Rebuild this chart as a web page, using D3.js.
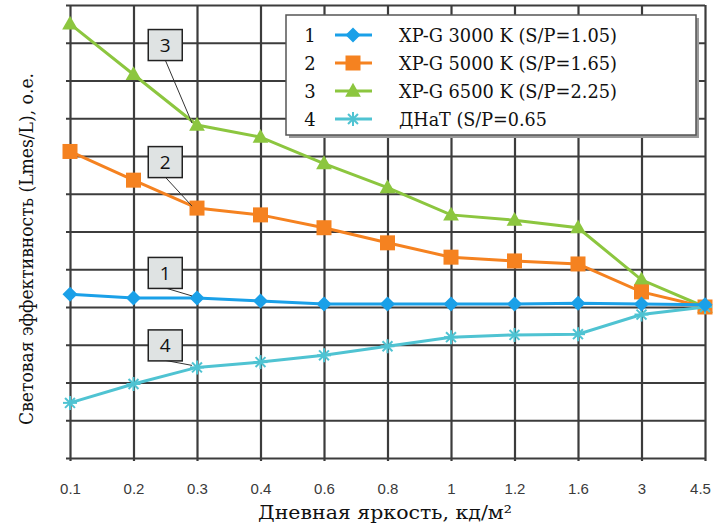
<!DOCTYPE html>
<html>
<head>
<meta charset="utf-8">
<script src="https://cdn.jsdelivr.net/npm/d3@7"></script>
<style>
  body { margin: 0; background: #fff; }
  svg { display: block; }
  .serif { font-family: "DejaVu Serif", serif; fill: #111; }
  .callout { font-family: "Open Sans", "Liberation Sans", sans-serif; fill: #111; }
</style>
</head>
<body>
<script>
// Data: relative efficiency vs. daytime luminance
var categories = ["0.1", "0.2", "0.3", "0.4", "0.6", "0.8", "1", "1.2", "1.6", "3", "4.5"];
var xpg3000 = [1.017, 1.012, 1.012, 1.008, 1.004, 1.004, 1.004, 1.004, 1.005, 1.004, 1.003];
var xpg5000 = [1.206, 1.168, 1.131, 1.122, 1.105, 1.085, 1.066, 1.061, 1.057, 1.020, 1.000];
var xpg6500 = [1.375, 1.308, 1.241, 1.225, 1.190, 1.158, 1.122, 1.115, 1.105, 1.036, 1.000];
var dnat    = [0.873, 0.898, 0.920, 0.927, 0.936, 0.948, 0.960, 0.963, 0.964, 0.990, 1.000];
var seriesNames = ["XP-G 3000 K (S/P=1.05)", "XP-G 5000 K (S/P=1.65)", "XP-G 6500 K (S/P=2.25)", "ДНаТ (S/P=0.65"];
var yGrid = [0.80, 0.85, 0.90, 0.95, 1.00, 1.05, 1.10, 1.15, 1.20, 1.25, 1.30, 1.35, 1.40];

var width = 714, height = 524;
var svg = d3.select("body").append("svg").attr("width", width).attr("height", height);

var x = d3.scalePoint().domain(categories).range([70, 705]);
var y = d3.scaleLinear().domain([0.8, 1.4]).range([458, 5]);

var series = [
  { id: 1, values: xpg3000, color: "#1aa0e8", marker: "diamond", name: seriesNames[0], dy: -25, tl: 218 },
  { id: 2, values: xpg5000, color: "#f58220", marker: "square",  name: seriesNames[1], dy: -46, tl: 218 },
  { id: 3, values: xpg6500, color: "#8cc63f", marker: "triangle", name: seriesNames[2], dy: -80, tl: 218 },
  { id: 4, values: dnat,    color: "#4fc3d2", marker: "asterisk", name: seriesNames[3], dy: -22, tl: 148 }
];

// Grid
var gridColor = "#3c3c3c";
svg.append("g")
  .attr("transform", "translate(66,0)")
  .call(d3.axisLeft(y).tickValues(yGrid).tickSize(-(705 - 66)).tickFormat(""));
var xAxis = svg.append("g")
  .attr("transform", "translate(0,461)")
  .call(d3.axisBottom(x).tickSize(-(461 - 5)).tickSizeOuter(0).tickPadding(22));
svg.selectAll(".domain").remove();
svg.selectAll(".tick line").attr("stroke", gridColor).attr("stroke-width", 2.2);
xAxis.selectAll("text")
  .attr("fill", "#3a3a3a")
  .style("font-family", "'Liberation Sans', Arial, sans-serif")
  .style("font-size", "15px")
  .attr("dx", function(d, i){ return i === categories.length - 1 ? -5 : 0; });

// Markers
function drawMarker(g, type, color, size){
  var s = size;
  if(type === "diamond"){
    g.append("path").attr("d", "M0," + (-s) + "L" + s + ",0L0," + s + "L" + (-s) + ",0Z").attr("fill", color);
  } else if(type === "square"){
    g.append("rect").attr("x", -s).attr("y", -s).attr("width", 2 * s).attr("height", 2 * s).attr("fill", color);
  } else if(type === "triangle"){
    g.append("path").attr("d", "M0," + (-s * 1.1) + "L" + (s * 1.05) + "," + (s * 0.75) + "L" + (-s * 1.05) + "," + (s * 0.75) + "Z").attr("fill", color);
  } else {
    [0, 45, 90, 135].forEach(function(a){
      g.append("line").attr("x1", -s).attr("x2", s).attr("y1", 0).attr("y2", 0)
        .attr("stroke", color).attr("stroke-width", 2)
        .attr("transform", "rotate(" + a + ")");
    });
  }
}

var markerSize = { diamond: 7.5, square: 7.5, triangle: 7.5, asterisk: 7 };
var line = d3.line().x(function(d, i){ return x(categories[i]); }).y(function(d){ return y(d); });

// draw order: green, orange, cyan, blue
[series[2], series[1], series[3], series[0]].forEach(function(s){
  var g = svg.append("g");
  g.append("path").attr("d", line(s.values)).attr("fill", "none")
    .attr("stroke", s.color).attr("stroke-width", 3);
  s.values.forEach(function(v, i){
    var m = g.append("g").attr("transform", "translate(" + x(categories[i]) + "," + y(v) + ")");
    drawMarker(m, s.marker, s.color, markerSize[s.marker]);
  });
});

// Callout labels
series.forEach(function(s){
  var px = x(categories[2]), py = y(s.values[2]);
  var bx = (x(categories[1]) + x(categories[2])) / 2, by = py + s.dy;
  svg.append("line").attr("x1", bx).attr("y1", by + 15).attr("x2", px - 5).attr("y2", py - 2)
    .attr("stroke", "#333").attr("stroke-width", 1);
  svg.append("rect").attr("x", bx - 17).attr("y", by - 15.5).attr("width", 34).attr("height", 31)
    .attr("fill", "#dfe3e3").attr("stroke", "#222").attr("stroke-width", 1.5);
  svg.append("text").attr("class", "callout").attr("x", bx).attr("y", by + 7).attr("text-anchor", "middle")
    .style("font-size", "19px").text(s.id);
});

// Legend
var legend = svg.append("g").attr("transform", "translate(286,15)");
legend.append("rect").attr("x", 3).attr("y", 3).attr("width", 410).attr("height", 120).attr("fill", "#9a9a9a");
legend.append("rect").attr("x", 0).attr("y", 0).attr("width", 410).attr("height", 120)
  .attr("fill", "#fff").attr("stroke", "#555").attr("stroke-width", 1.5);
series.forEach(function(s, i){
  var ly = 20 + i * 28;
  var row = legend.append("g").attr("transform", "translate(0," + ly + ")");
  row.append("text").attr("class", "serif").attr("x", 24).attr("y", 7).attr("text-anchor", "middle")
    .style("font-size", "18px").text(s.id);
  row.append("line").attr("x1", 49).attr("x2", 86).attr("stroke", s.color).attr("stroke-width", 3);
  var m = row.append("g").attr("transform", "translate(67,0)");
  drawMarker(m, s.marker, s.color, markerSize[s.marker]);
  row.append("text").attr("class", "serif").attr("x", 113).attr("y", 7)
    .style("font-size", "18px")
    .attr("textLength", s.tl).attr("lengthAdjust", "spacingAndGlyphs")
    .text(s.name);
});

// Axis titles
svg.append("text").attr("class", "serif").attr("x", 385).attr("y", 519).attr("text-anchor", "middle")
  .style("font-size", "19px")
  .attr("textLength", 254).attr("lengthAdjust", "spacingAndGlyphs")
  .text("Дневная яркость, кд/м²");
svg.append("text").attr("class", "serif").attr("transform", "translate(33,249) rotate(-90)").attr("text-anchor", "middle")
  .style("font-size", "19px")
  .attr("textLength", 352).attr("lengthAdjust", "spacingAndGlyphs")
  .text("Световая эффективность (Lmes/L), о.е.");
</script>
</body>
</html>
